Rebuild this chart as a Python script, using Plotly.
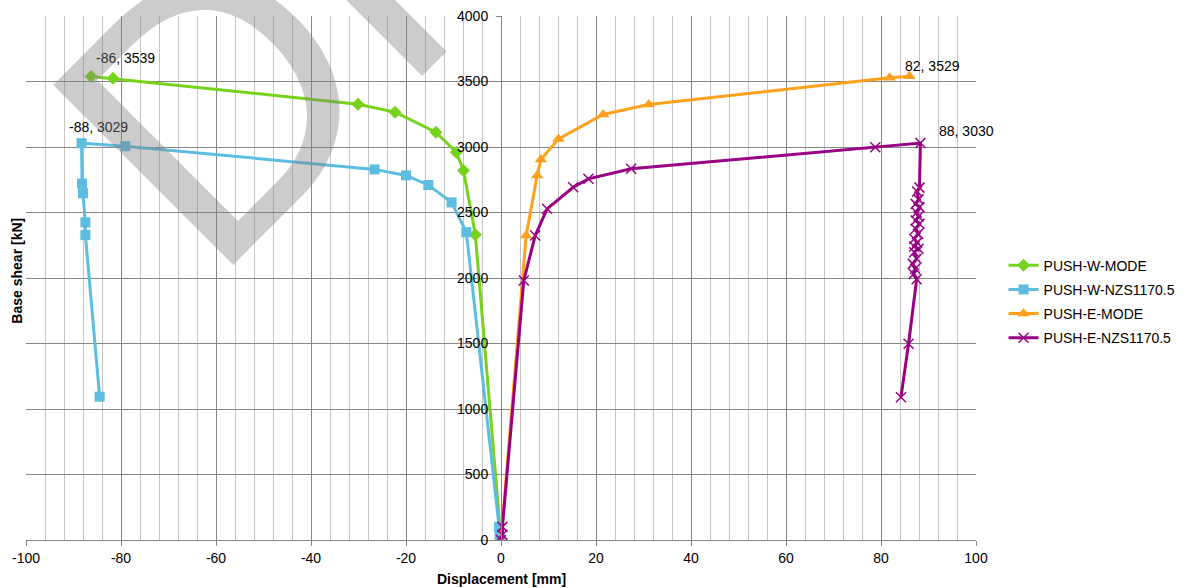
import plotly.graph_objects as go

# ---------------- data ----------------
w_mode_x = [0, -5.4, -7.9, -9.4, -13.7, -22.3, -30.1, -81.7, -86.3]
w_mode_y = [0, 2330, 2821, 2960, 3113, 3266, 3327, 3525, 3539]

w_nzs_x = [0, -0.3, -0.4, -7.3, -10.4, -15.3, -20.0, -26.6, -79.1, -88.3,
           -88.2, -88.0, -87.5, -87.5, -84.5]
w_nzs_y = [0, 30, 100, 2350, 2577, 2710, 2783, 2829, 3006, 3029,
           2721, 2647, 2425, 2328, 1094]

e_mode_x = [0, 5.3, 7.6, 8.4, 12.1, 21.5, 31.1, 81.8, 86.0]
e_mode_y = [0, 2324, 2782, 2904, 3062, 3248, 3324, 3529, 3540]

e_nzs_x = [0, 0.3, 0.3, 4.8, 7.2, 9.7, 15.2, 18.4, 27.4, 78.8, 88.3,
           88.1, 87.6, 87.9, 87.3, 88.1, 87.5, 87.9, 87.3, 88.1, 87.3,
           87.8, 87.0, 87.6, 87.0, 87.9, 87.0, 87.5, 86.7, 87.2, 86.9,
           87.5, 85.8, 84.2]
e_nzs_y = [0, 40, 100, 1981, 2324, 2528, 2693, 2757, 2834, 2998, 3030,
           2690, 2660, 2600, 2566, 2541, 2500, 2470, 2439, 2414, 2376,
           2337, 2300, 2270, 2240, 2223, 2197, 2147, 2108, 2070, 2030,
           1990, 1498, 1090]

series_names = ["PUSH-W-MODE", "PUSH-W-NZS1170.5", "PUSH-E-MODE", "PUSH-E-NZS1170.5"]
series_colors = ["#77d21b", "#5cbde0", "#ffa11c", "#990084"]

label_x = [-86.3, -88.3, 81.8, 88.3]
label_y = [3539, 3029, 3529, 3030]
label_text = ["-86, 3539", "-88, 3029", "82, 3529", "88, 3030"]

x_ticks = list(range(-100, 101, 20))
x_tick_text = [str(v) for v in x_ticks]
y_ticks = list(range(0, 4001, 500))
y_tick_text = [str(v) for v in y_ticks]

FONT = "Liberation Sans, Arial, sans-serif"

fig = go.Figure()

fig.add_trace(go.Scatter(
    x=w_mode_x, y=w_mode_y, mode="lines+markers", name=series_names[0],
    line=dict(color=series_colors[0], width=3),
    marker=dict(symbol="diamond", size=10, color=series_colors[0]),
    legendgroup="g1"))
fig.add_trace(go.Scatter(
    x=w_nzs_x, y=w_nzs_y, mode="lines+markers", name=series_names[1],
    line=dict(color=series_colors[1], width=3),
    marker=dict(symbol="square", size=10, color=series_colors[1]),
    legendgroup="g2"))
fig.add_trace(go.Scatter(
    x=e_mode_x, y=e_mode_y, mode="lines+markers", name=series_names[2],
    line=dict(color=series_colors[2], width=3),
    marker=dict(symbol="triangle-up", size=11, color=series_colors[2]),
    legendgroup="g3"))
fig.add_trace(go.Scatter(
    x=e_nzs_x, y=e_nzs_y, mode="lines+markers", name=series_names[3],
    line=dict(color=series_colors[3], width=3),
    marker=dict(symbol="x-thin", size=10, color=series_colors[3],
                line=dict(color=series_colors[3], width=1.5)),
    legendgroup="g4"))

annotations = []
offsets = [(3, 18, "left"), (-15, 16, "left"), (13, 12, "left"), (17, 12, "left")]
for lx, ly, lt, (xs, ys, xa) in zip(label_x, label_y, label_text, offsets):
    annotations.append(dict(x=lx, y=ly, xref="x", yref="y", text=lt,
                            showarrow=False, xanchor=xa, yanchor="middle",
                            xshift=xs, yshift=ys,
                            font=dict(family=FONT, size=14, color="#000")))

# axis titles
annotations.append(dict(x=0.5, y=0, xref="paper", yref="paper",
                        text="<b>Displacement [mm]</b>", showarrow=False,
                        xanchor="center", yanchor="middle", yshift=-38.5,
                        font=dict(family=FONT, size=14, color="#000")))
annotations.append(dict(x=-0.0095, y=0.514, xref="paper", yref="paper",
                        text="<b>Base shear [kN]</b>", showarrow=False,
                        textangle=-90, xanchor="center", yanchor="middle",
                        font=dict(family=FONT, size=14, color="#000")))

# draft watermark
annotations.append(dict(x=0.2990, y=1.0172, xref="paper", yref="paper",
                        text="DR", showarrow=False, textangle=-45,
                        xanchor="center", yanchor="middle",
                        font=dict(family=FONT, size=370,
                                  color="rgba(128,128,128,0.4)")))

fig.update_layout(
    width=1189, height=588,
    margin=dict(l=26, r=213, t=16, b=48, autoexpand=False),
    paper_bgcolor="white", plot_bgcolor="white",
    font=dict(family=FONT, size=14, color="#000"),
    showlegend=True,
    legend=dict(x=1.029, y=0.455, xanchor="left", yanchor="middle",
                traceorder="grouped", tracegroupgap=3,
                font=dict(family=FONT, size=14, color="#000"),
                bgcolor="rgba(0,0,0,0)"),
    annotations=annotations,
    xaxis=dict(range=[-100, 100], tickvals=x_ticks, ticktext=x_tick_text,
               ticks="outside", automargin=False,
               ticklen=5, tickcolor="#868686", showline=True,
               linecolor="#868686", linewidth=1, zeroline=False,
               showgrid=True, gridcolor="#868686", gridwidth=1,
               minor=dict(dtick=4, showgrid=True, gridcolor="#c4c4c4",
                          gridwidth=1),
               tickfont=dict(family=FONT, size=14, color="#000")),
    yaxis=dict(range=[0, 4000], tickvals=y_ticks, ticktext=y_tick_text,
               anchor="free", automargin=False,
               position=0.5, ticks="outside", ticklen=5,
               ticklabelstandoff=5,
               tickcolor="#868686", showline=True, linecolor="#868686",
               linewidth=1, zeroline=False, showgrid=True,
               gridcolor="#868686", gridwidth=1,
               tickfont=dict(family=FONT, size=14, color="#000")),
)

fig.write_html(
    "out.html",
    config={"displayModeBar": False},
    post_script="document.body.style.margin='0';document.body.style.padding='0';",
)
